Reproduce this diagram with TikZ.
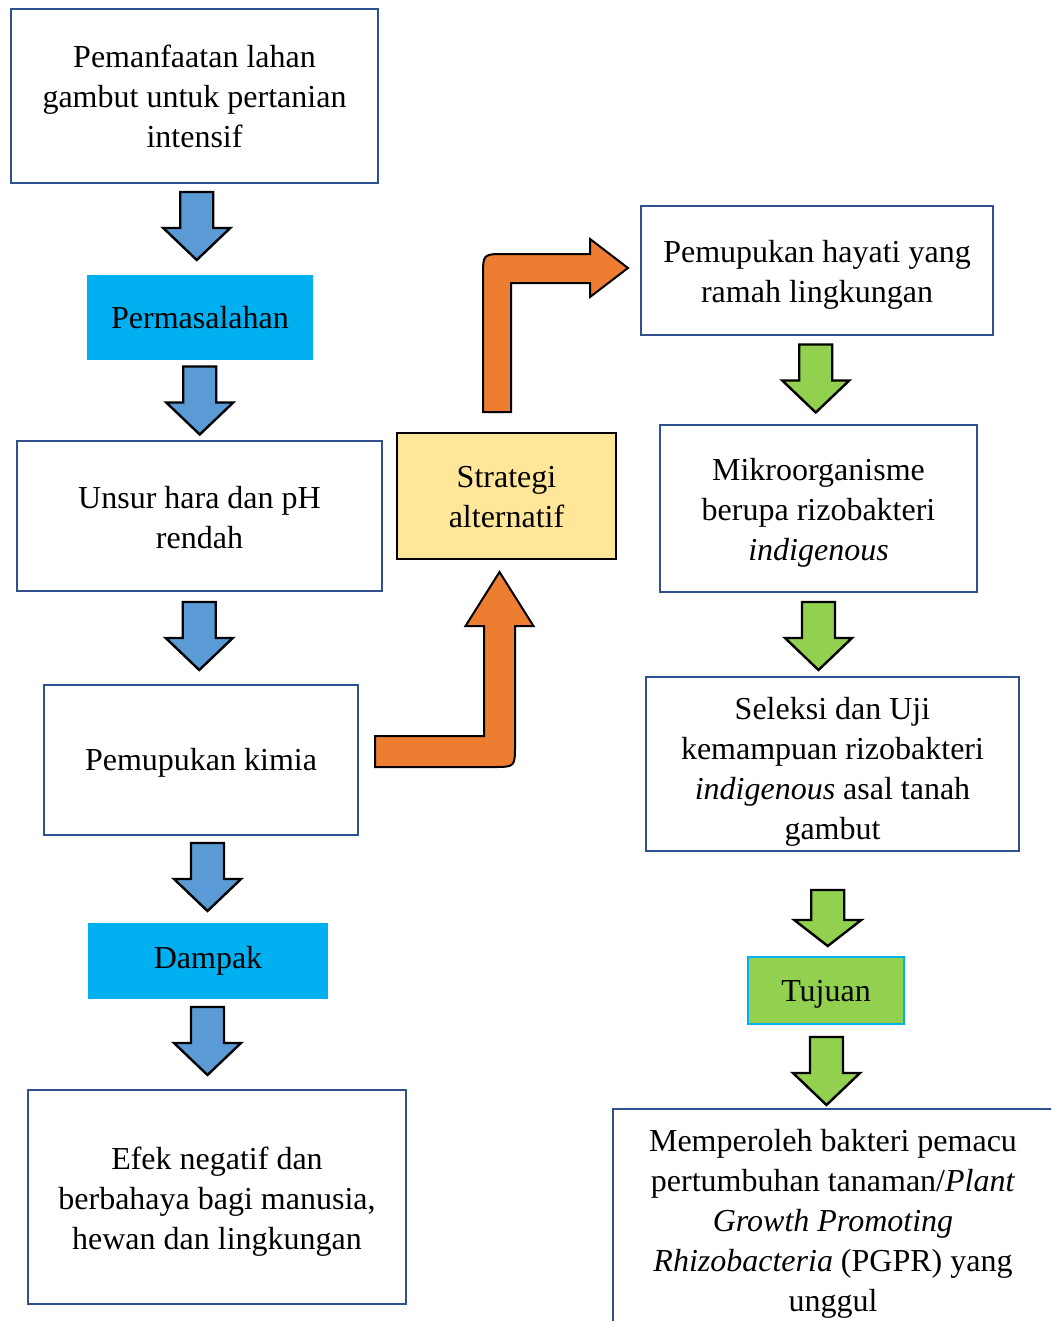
\documentclass[tikz,border=0pt]{standalone}
\usepackage{fontspec}
\setmainfont{Liberation Serif}
\usetikzlibrary{calc}
\definecolor{garis}{RGB}{47,82,143}
\definecolor{birupanah}{RGB}{91,155,213}
\definecolor{cyanbox}{RGB}{0,176,240}
\definecolor{oranye}{RGB}{237,125,49}
\definecolor{hijau}{RGB}{146,208,80}
\definecolor{kuning}{RGB}{255,230,153}
\tikzset{
  kotak/.style={draw=garis, line width=1pt, fill=white, align=center, inner sep=0pt, outer sep=0pt,
    font=\fontsize{16}{20}\selectfont},
  judul/.style={fill=cyanbox, align=center, inner sep=0pt, outer sep=0pt,
    font=\fontsize{16}{20}\selectfont},
  panah/.style={draw=black, line width=1.2pt, line join=miter},
}
% strut on the first line, pushes the text a little down
\newcommand{\sangga}[1]{\rule{0pt}{#1}}
% block arrow pointing down, between two nodes: [half length] fill, from, to, offset
\newcommand{\panahbawah}[5][34]{%
  \coordinate (m) at ($(#3.south)!0.5!(#4.north)+#5$);
  \filldraw[panah, fill=#2] ($(m)+(-16.5,-#1)$) -- ($(m)+(16.5,-#1)$) -- ($(m)+(16.5,2)$)
    -- ($(m)+(33.5,2)$) -- ($(m)+(0,#1)$) -- ($(m)+(-33.5,2)$) -- ($(m)+(-16.5,2)$) -- cycle;
}
\begin{document}
\begin{tikzpicture}[x=0.5pt, y=-0.5pt]
  \useasboundingbox (0,0) rectangle (1051,1321);
  \clip (0,0) rectangle (1051,1321);
  % left column
  \node[kotak, minimum width=183.5pt, minimum height=87pt] (lahan) at (194.5,96)
    {Pemanfaatan lahan\\gambut untuk pertanian\\intensif};
  \node[judul, minimum width=113pt, minimum height=42.5pt] (masalah) at (200,317.5) {Permasalahan};
  \node[kotak, minimum width=182.5pt, minimum height=75pt] (unsur) at (199.5,516)
    {\sangga{13pt}Unsur hara dan pH\\rendah};
  \node[kotak, minimum width=157pt, minimum height=75pt] (kimia) at (201,760)
    {\sangga{14pt}Pemupukan kimia};
  \node[judul, minimum width=120pt, minimum height=38pt] (dampak) at (208,961) {Dampak};
  \node[kotak, minimum width=189pt, minimum height=107pt] (efek) at (217,1197)
    {\sangga{16pt}Efek negatif dan\\berbahaya bagi manusia,\\hewan dan lingkungan};
  % middle
  \node[kotak, draw=black, line width=1.2pt, fill=kuning, minimum width=109.5pt, minimum height=63pt]
    (strategi) at (506.5,496) {\sangga{12pt}Strategi\\alternatif};
  % right column
  \node[kotak, minimum width=176pt, minimum height=64.5pt] (hayati) at (817,270.5)
    {\sangga{15pt}Pemupukan hayati yang\\ramah lingkungan};
  \node[kotak, minimum width=158.5pt, minimum height=83.5pt] (mikro) at (818.5,508.5)
    {\sangga{15pt}Mikroorganisme\\berupa rizobakteri\\\textit{indigenous}};
  \node[kotak, minimum width=186.5pt, minimum height=87pt] (seleksi) at (832.5,764)
    {\sangga{19pt}Seleksi dan Uji\\kemampuan rizobakteri\\\textit{indigenous} asal tanah\\gambut};
  \node[kotak, draw=cyanbox, line width=1.2pt, fill=hijau, minimum width=78pt, minimum height=33.5pt]
    (tujuan) at (826,990.5) {\sangga{14pt}Tujuan};
  \node[kotak, minimum width=220pt, minimum height=111pt] (hasil) at (833,1220)
    {\sangga{15pt}Memperoleh bakteri pemacu\\pertumbuhan tanaman/\textit{Plant}\\\textit{Growth Promoting}\\
     \textit{Rhizobacteria} (PGPR) yang\\unggul};
  % blue arrows
  \panahbawah{birupanah}{lahan}{masalah}{(-0.5,-3)}
  \panahbawah{birupanah}{masalah}{unsur}{(0,0)}
  \panahbawah{birupanah}{unsur}{kimia}{(-1,-2)}
  \panahbawah{birupanah}{kimia}{dampak}{(3,-2)}
  \panahbawah{birupanah}{dampak}{efek}{(-5,-3.5)}
  % green arrows
  \panahbawah{hijau}{hayati}{mikro}{(-2,-1.5)}
  \panahbawah{hijau}{mikro}{seleksi}{(-7,1.5)}
  \panahbawah[28]{hijau}{seleksi}{tujuan}{(-1.5,14)}
  \panahbawah{hijau}{tujuan}{hasil}{(-3,4.5)}
  % orange bent arrows
  \filldraw[panah, line width=1pt, fill=oranye] (375,736) -- (484,736) -- (484,626) -- (465.5,626)
    -- (499.5,572) -- (533.5,626) -- (515,626) -- (515,745) .. controls (515,767) .. (493,767)
    -- (375,767) -- cycle;
  \filldraw[panah, line width=1pt, fill=oranye] (511,412) -- (511,283) -- (590,283) -- (590,297)
    -- (628,268) -- (590,239) -- (590,254) -- (505,254) .. controls (483,254) .. (483,276)
    -- (483,412) -- cycle;
\end{tikzpicture}
\end{document}
